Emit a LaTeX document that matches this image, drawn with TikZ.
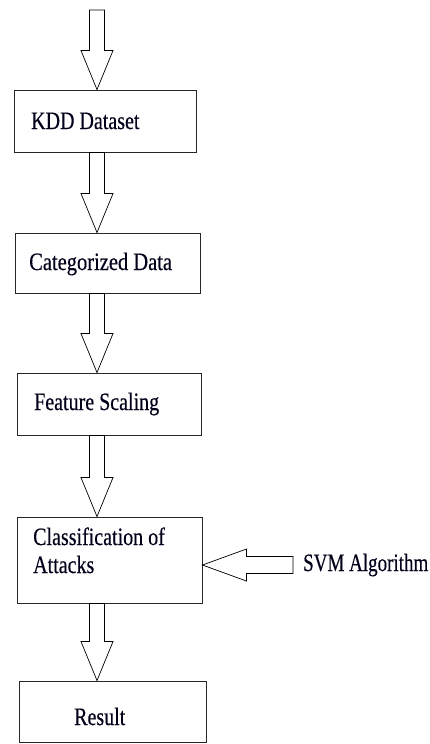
\documentclass[tikz,border=0pt]{standalone}
\usepackage{fontspec}
\setmainfont{Liberation Serif}[FakeBold=0.4]
\usepackage{graphicx}
\usepackage{tikz}
\usetikzlibrary{calc}

% narrow setting of the labels
\newcommand{\sq}[2][0.8]{\scalebox{#1}[1]{#2}}

% hollow block arrows: #1 = tail point, #2 = tip
\newcommand{\fatdown}[2]{%
  \draw[fat] ($(#1)+(-7.5,0)$) -- ($(#2)+(-7.5,39)$) -- ($(#2)+(-16,39)$) -- (#2)
    -- ($(#2)+(16,39)$) -- ($(#2)+(7.5,39)$) -- ($(#1)+(7.5,0)$) -- cycle;}
\newcommand{\fatleft}[2]{%
  \draw[fat] ($(#1)+(0,8.5)$) -- ($(#2)+(44,8.5)$) -- ($(#2)+(44,16)$) -- (#2)
    -- ($(#2)+(44,-16)$) -- ($(#2)+(44,-8.5)$) -- ($(#1)+(0,-8.5)$) -- cycle;}

\begin{document}
\begin{tikzpicture}[
        x=1pt, y=1pt,
        % Styles for the boxes
        stage/.style={rectangle, draw=black!85, line width=0.9pt, inner sep=0pt},
        % Styles for texts and arrows
        lbl/.style={font=\fontsize{25}{29}\selectfont, text=black!90!blue, inner sep=0pt, anchor=base west},
        fat/.style={draw=black, line width=0.7pt, line join=miter}
    ]
    \useasboundingbox (0,0) rectangle (430,-744);

    % --- BOXES ---
    \node[stage, minimum width=182, minimum height=62] (kdd)  at (105,-121) {};
    \node[stage, minimum width=185, minimum height=60] (cat)  at (107.5,-263) {};
    \node[stage, minimum width=184, minimum height=62] (feat) at (109,-404) {};
    \node[stage, minimum width=185, minimum height=86] (cls)  at (109.5,-560) {};
    \node[stage, minimum width=187, minimum height=61] (res)  at (112.5,-711.5) {};

    % --- LABELS ---
    \node[lbl] (kddtext)  at (31,-129) {\sq{KDD Dataset}};
    \node[lbl] (cattext)  at (29,-270) {\sq[0.82]{Categorized Data}};
    \node[lbl] (feattext) at (34,-410) {\sq{Feature Scaling}};
    \node[lbl] (clstext)  at (33,-545) {\sq{Classification of}};
    \node[lbl] (atttext)  at (33,-573) {\sq{Attacks}};
    \node[lbl] (restext)  at (74,-725) {\sq{Result}};
    \node[lbl] (svm)      at (303,-571) {\sq[0.76]{SVM Algorithm}};

    % --- ARROWS ---
    \coordinate (axis)  at (97,0);
    \coordinate (entry) at (97,-10);
    \fatdown{entry}{kdd.north -| axis}
    \fatdown{kdd.south -| axis}{cat.north -| axis}
    \fatdown{cat.south -| axis}{feat.north -| axis}
    \fatdown{feat.south -| axis}{cls.north -| axis}
    \fatdown{cls.south -| axis}{res.north -| axis}
    \fatleft{$(svm.west)+(-10,0)$}{cls.east |- svm.west}

\end{tikzpicture}
\end{document}
